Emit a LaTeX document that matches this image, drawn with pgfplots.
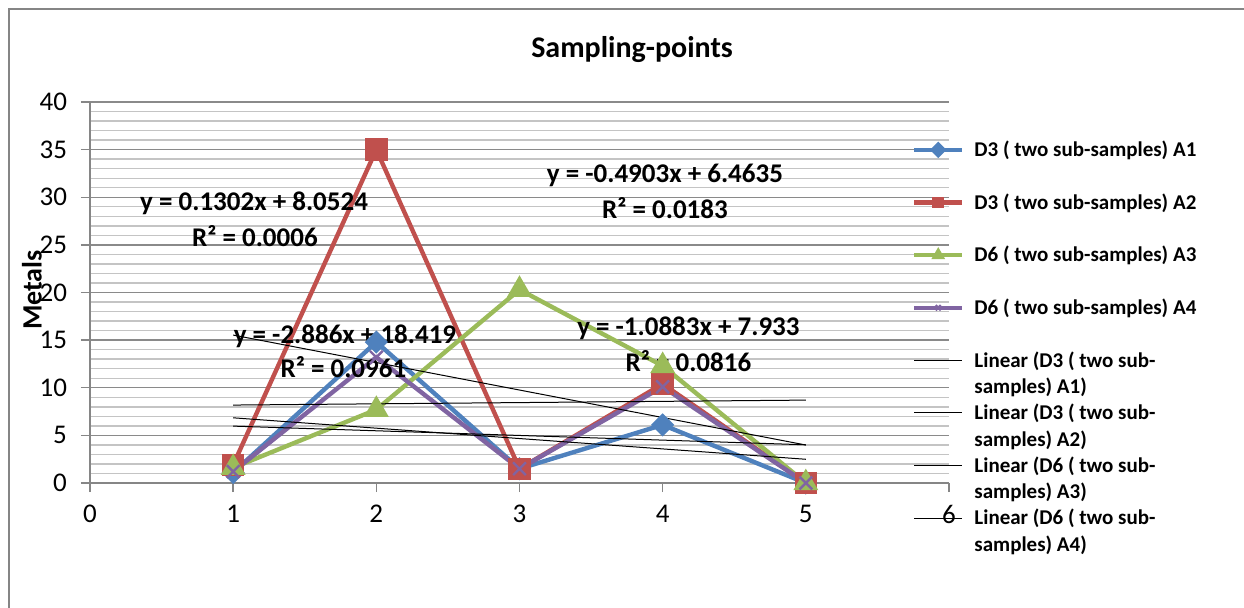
\documentclass[border=0pt]{standalone}
\usepackage{fontspec}
\setmainfont{Carlito}
\usepackage{pgfplots}
\pgfplotsset{compat=1.18}
\definecolor{sblue}{HTML}{4F81BD}
\definecolor{sred}{HTML}{C0504D}
\definecolor{sgreen}{HTML}{9BBB59}
\definecolor{spurple}{HTML}{8064A2}
\definecolor{axisgray}{HTML}{868686}
\definecolor{majgrid}{HTML}{8A8A8A}
\definecolor{mingrid}{HTML}{C4C4C4}
\definecolor{bordergray}{HTML}{858585}
\newcommand{\twoline}[2]{\vtop{\hbox{\strut #1}\hbox{\strut #2}}}
\begin{document}
\begin{tikzpicture}
\useasboundingbox (0,0) rectangle (622pt,303.5pt);
\draw[color=bordergray, line width=1.2pt] (4.5pt,-20pt) -- (4.5pt,299pt) -- (640pt,299pt);
\begin{axis}[
  scale only axis, width=429.5pt, height=190.5pt,
  at={(45pt,62pt)}, anchor=south west,
  xmin=0, xmax=6, ymin=0, ymax=40,
  xtick={0,1,2,3,4,5,6}, ytick={0,5,10,15,20,25,30,35,40},
  minor y tick num=4,
  axis x line*=bottom, axis y line*=left,
  axis line style={draw=axisgray, line width=0.7pt, -},
  tick align=outside,
  major tick length=4.5pt, minor tick length=0pt,
  tick style={draw=axisgray, line width=0.7pt},
  ymajorgrids, yminorgrids,
  major grid style={draw=majgrid, line width=0.7pt},
  minor grid style={draw=mingrid, line width=0.7pt},
  clip=false,
  /pgf/number format/assume math mode=true,
  tick label style={font=\fontsize{13.5}{16}\selectfont, text=black},
  xticklabel style={yshift=-3pt},
  yticklabel style={xshift=-3.5pt},
  ylabel={Metals},
  ylabel style={at={(axis description cs:-0.0675,0.5066)}, anchor=center, font=\fontsize{14}{17}\selectfont\bfseries},
  legend style={at={(axis description cs:0.957,0.8984)}, anchor=north west, draw=none, fill=none,
    inner sep=0pt, outer sep=0pt, row sep=2.3pt, column sep=5pt,
    font=\fontsize{10.5}{13.3}\selectfont\bfseries,
    cells={anchor=base west},
    nodes={inner sep=0pt, text height=8pt, text depth=16pt}},
  legend image code/.code={\draw[mark repeat=2, mark phase=2, #1] plot coordinates {(0pt,3.4pt) (12pt,3.4pt) (24pt,3.4pt)};},
  legend image post style={mark size=1.8pt},
]
\addplot[sblue, line width=2.2pt, mark=square*, mark size=3pt, mark options={rotate=45}] coordinates {(1,1.1) (2,14.8) (3,1.5) (4,6.1) (5,0)};
\addlegendentry{D3 ( two sub-samples) A1}
\addplot[sred, line width=2.2pt, mark=square*, mark size=4.5pt] coordinates {(1,1.9) (2,35.0) (3,1.5) (4,10.4) (5,0)};
\addlegendentry{D3 ( two sub-samples) A2}
\addplot[sgreen, line width=2.2pt, mark=triangle*, mark size=5pt] coordinates {(1,1.6) (2,7.7) (3,20.3) (4,12.3) (5,0)};
\addlegendentry{D6 ( two sub-samples) A3}
\addplot[spurple, line width=2.2pt, mark=x, mark size=4.5pt, mark options={line width=1.2pt}] coordinates {(1,1.2) (2,13.2) (3,1.5) (4,10.1) (5,0)};
\addlegendentry{D6 ( two sub-samples) A4}
\addplot[black, line width=0.5pt, mark=none] coordinates {(1,6.845) (5,2.4915)};
\addlegendentry{\twoline{Linear (D3 ( two sub-}{samples) A1)}}
\addplot[black, line width=0.5pt, mark=none] coordinates {(1,15.533) (5,3.989)};
\addlegendentry{\twoline{Linear (D3 ( two sub-}{samples) A2)}}
\addplot[black, line width=0.5pt, mark=none] coordinates {(1,8.1826) (5,8.7034)};
\addlegendentry{\twoline{Linear (D6 ( two sub-}{samples) A3)}}
\addplot[black, line width=0.5pt, mark=none] coordinates {(1,5.9732) (5,4.012)};
\addlegendentry{\twoline{Linear (D6 ( two sub-}{samples) A4)}}
\node[font=\fontsize{15}{18}\selectfont\bfseries, anchor=center] at (axis description cs:0.631,1.1365) {Sampling-points};
\begin{scope}[every node/.style={font=\fontsize{13.5}{16}\selectfont\bfseries, anchor=center}]
\node at (axis cs:1.146,29.4) {y = 0.1302x + 8.0524};
\node at (axis cs:1.152,25.93) {R² = 0.0006};
\node at (axis cs:4.016,32.34) {y = -0.4903x + 6.4635};
\node at (axis cs:4.016,28.87) {R² = 0.0183};
\node at (axis cs:1.781,15.43) {y = -2.886x + 18.419};
\node at (axis cs:1.77,12.18) {R² = 0.0961};
\node at (axis cs:4.18,16.27) {y = -1.0883x + 7.933};
\node at (axis cs:4.18,12.81) {R² = 0.0816};
\end{scope}
\end{axis}
\end{tikzpicture}
\end{document}
